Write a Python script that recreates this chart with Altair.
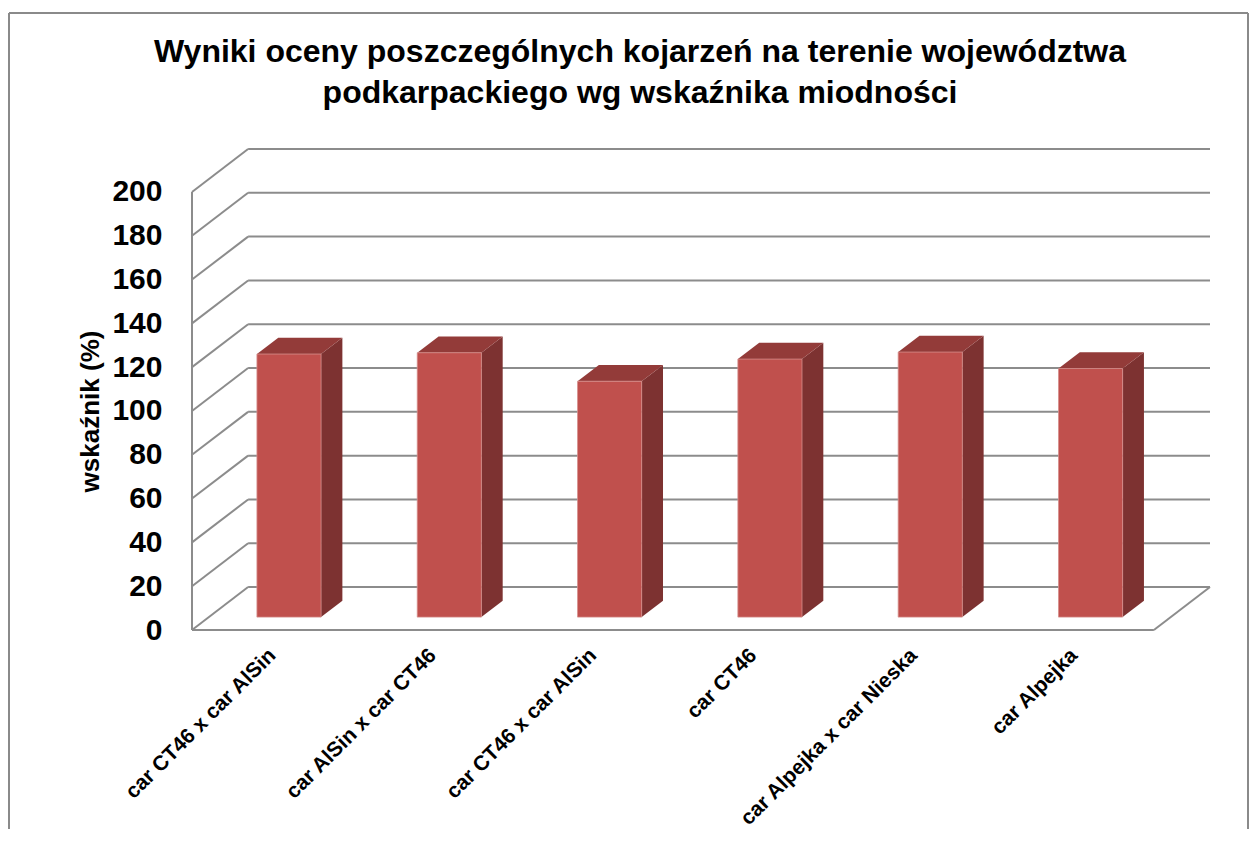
import json
import altair as alt
import pandas as pd

# ---------------- data ----------------
CATEGORIES = [
    "car CT46 x car AlSin",
    "car AlSin x car CT46",
    "car CT46 x car AlSin",
    "car CT46",
    "car Alpejka x car Nieska",
    "car Alpejka",
]
VALUES = [120.1, 120.7, 107.7, 117.8, 121.0, 113.5]
Y_TICKS = [0, 20, 40, 60, 80, 100, 120, 140, 160, 180, 200]
TITLE_LINES = [
    "Wyniki oceny poszczególnych kojarzeń na terenie województwa",
    "podkarpackiego wg wskaźnika miodności",
]
Y_TITLE = "wskaźnik (%)"

# ---------------- 3-D geometry (style) ----------------
N = len(CATEGORIES)
WALL_DX = 0.35      # depth offset along x (in category bands)
WALL_DY = 19.6      # depth offset along y (in value units)
BAR_FRONT = 0.30    # depth fraction where bar front face sits
BAR_DEPTH = 0.38    # depth fraction of bar thickness
BAR_HALF = 0.20     # half width of bar (bands)
X_MAX = N + WALL_DX
Y_MAX = max(Y_TICKS) + WALL_DY

W, H = 1018, 481
GRID = "#8c8c8c"
FRONT = "#C0504D"
SIDE = "#7D3231"
TOP = "#933B39"
FONT = "Liberation Sans"

xs = alt.Scale(domain=[0, X_MAX], nice=False, zero=False)
ys = alt.Scale(domain=[0, Y_MAX], nice=False, zero=False)

# ---------------- tables ----------------
back = pd.DataFrame({"v": Y_TICKS})
back["x"] = WALL_DX
back["x2"] = X_MAX
back["y"] = back["v"] + WALL_DY

diag = pd.DataFrame({"v": Y_TICKS})
diag["x"] = 0.0
diag["x2"] = WALL_DX
diag["y2"] = diag["v"] + WALL_DY

edges = pd.DataFrame({
    "x": [0.0, 0.0, float(N)],
    "x2": [0.0, float(N), X_MAX],
    "y": [0.0, 0.0, 0.0],
    "y2": [float(max(Y_TICKS)), 0.0, WALL_DY],
})

ddx = BAR_DEPTH * WALL_DX
ddy = BAR_DEPTH * WALL_DY
base = BAR_FRONT * WALL_DY
front_rows, side_rows, top_rows = [], [], []
for i, (c, v) in enumerate(zip(CATEGORIES, VALUES)):
    xl = i + 0.5 + BAR_FRONT * WALL_DX - BAR_HALF
    xr = xl + 2 * BAR_HALF
    yb = base
    yt = base + v
    front_rows.append({"bar": i, "cat": c, "value": v, "xl": xl, "xr": xr, "yb": yb, "yt": yt})
    side_rows += [
        {"bar": i, "x": xr, "lo": yb, "hi": yt},
        {"bar": i, "x": xr + ddx, "lo": yb + ddy, "hi": yt + ddy},
    ]
    top_rows += [
        {"bar": i, "y": yt, "l": xl, "r": xr},
        {"bar": i, "y": yt + ddy, "l": xl + ddx, "r": xr + ddx},
    ]
front = pd.DataFrame(front_rows)
side = pd.DataFrame(side_rows)
top = pd.DataFrame(top_rows)

label_expr = json.dumps(CATEGORIES) + "[round(datum.value - 0.5)]"

x_axis = alt.Axis(
    values=[i + 0.5 for i in range(N)],
    labelExpr=label_expr,
    labelAngle=-45,
    labelAlign="right",
    labelBaseline="middle",
    labelFontSize=21,
    labelFontWeight="bold",
    labelColor="black",
    labelPadding=22,
    labelLimit=0,
    labelOverlap=False,
    labelFlush=False,
    domain=False,
    ticks=False,
    grid=False,
    title=None,
)
y_axis = alt.Axis(
    values=Y_TICKS,
    labelFontSize=30,
    labelFontWeight="bold",
    labelColor="black",
    labelPadding=30,
    domain=False,
    ticks=False,
    grid=False,
    title=Y_TITLE,
    titleFontSize=26,
    titleFontWeight="bold",
    titleColor="black",
    titleX=-89,
    titleY=262,
)

back_layer = alt.Chart(back).mark_rule(color=GRID, strokeWidth=2).encode(
    x=alt.X("x:Q", scale=xs, axis=x_axis),
    x2="x2",
    y=alt.Y("y:Q", scale=ys, axis=y_axis),
)
diag_layer = alt.Chart(diag).mark_rule(color=GRID, strokeWidth=2).encode(
    x=alt.X("x:Q", scale=xs),
    x2="x2",
    y=alt.Y("v:Q", scale=ys),
    y2="y2",
)
edge_layer = alt.Chart(edges).mark_rule(color=GRID, strokeWidth=2).encode(
    x=alt.X("x:Q", scale=xs),
    x2="x2",
    y=alt.Y("y:Q", scale=ys),
    y2="y2",
)
side_layer = alt.Chart(side).mark_area(color=SIDE, orient="vertical", opacity=1).encode(
    x=alt.X("x:Q", scale=xs),
    y=alt.Y("lo:Q", scale=ys),
    y2="hi",
    detail="bar:N",
)
top_layer = alt.Chart(top).mark_area(color=TOP, orient="horizontal", opacity=1).encode(
    y=alt.Y("y:Q", scale=ys),
    x=alt.X("l:Q", scale=xs),
    x2="r",
    detail="bar:N",
)
front_layer = alt.Chart(front).mark_rect(color=FRONT, stroke="#d58e8b", strokeWidth=0.8).encode(
    x=alt.X("xl:Q", scale=xs),
    x2="xr",
    y=alt.Y("yb:Q", scale=ys),
    y2="yt",
)

# chart title drawn as text inside the outer frame
title_df = pd.DataFrame({"t": ["\n".join(TITLE_LINES)]})
title_layer = alt.Chart(title_df).mark_text(
    font=FONT, fontSize=32, fontWeight="bold", color="black",
    align="center", baseline="alphabetic", lineBreak="\n", lineHeight=41,
).encode(text="t:N", x=alt.value(448), y=alt.value(-87))

# outer chart frame (left, top, right edges; bottom runs off the page)
frame = pd.DataFrame({"side": ["left", "top", "right"]})
frame_left = alt.Chart(frame).transform_filter("datum.side == 'left'").mark_rule(
    stroke="#8a8a8a", strokeWidth=2
).encode(x=alt.value(-183), y=alt.value(-136), y2=alt.value(680))
frame_top = alt.Chart(frame).transform_filter("datum.side == 'top'").mark_rule(
    stroke="#8a8a8a", strokeWidth=2
).encode(x=alt.value(-183), x2=alt.value(1056), y=alt.value(-136))
frame_right = alt.Chart(frame).transform_filter("datum.side == 'right'").mark_rule(
    stroke="#8a8a8a", strokeWidth=2
).encode(x=alt.value(1056), y=alt.value(-136), y2=alt.value(680))

chart = alt.layer(
    back_layer, diag_layer, edge_layer, side_layer, top_layer, front_layer,
    title_layer, frame_left, frame_top, frame_right,
).properties(
    width=W,
    height=H,
    padding={"left": 0, "top": 4, "right": 0, "bottom": 0},
).configure(
    font=FONT,
    background="white",
).configure_view(stroke=None)

chart.save("out.html", embed_options={"renderer": "svg", "actions": False})
